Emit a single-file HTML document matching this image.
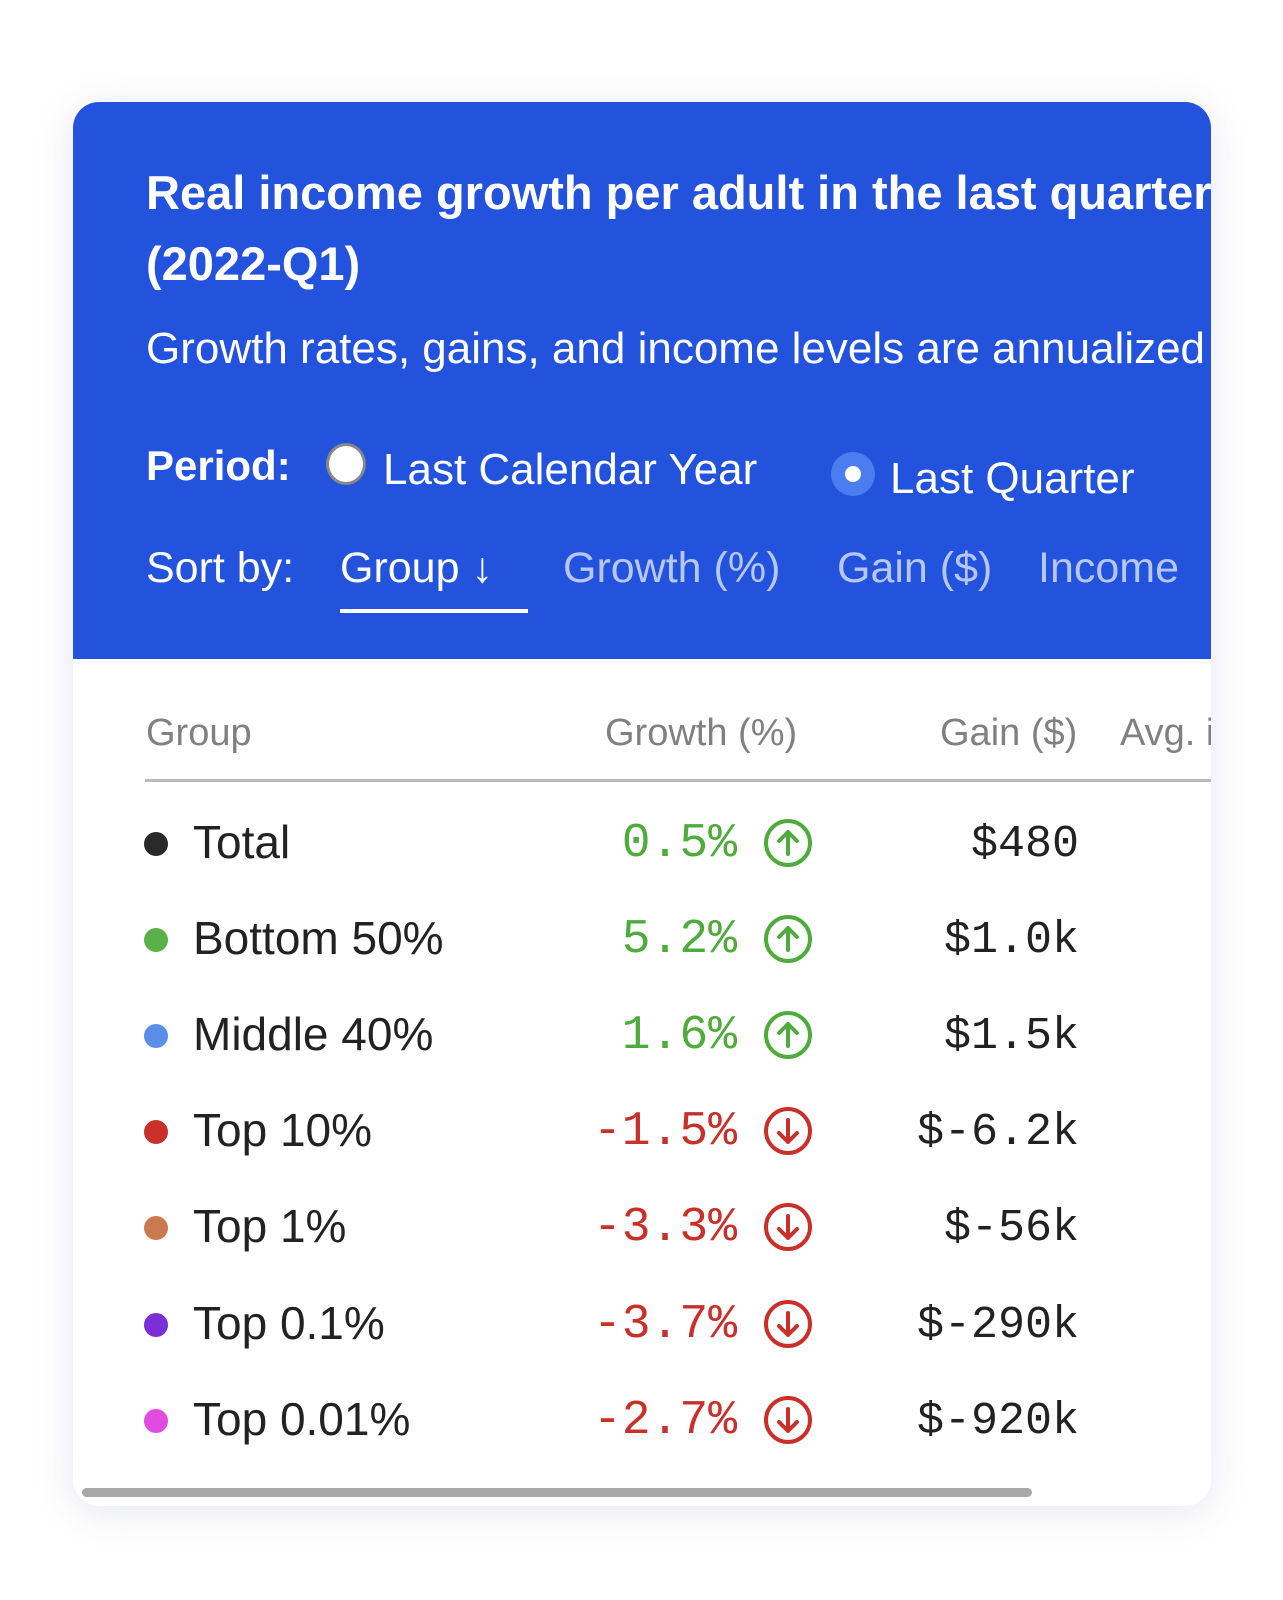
<!DOCTYPE html>
<html><head><meta charset="utf-8">
<style>
html,body{margin:0;padding:0;background:#fff;}
body{width:1283px;height:1600px;position:relative;overflow:hidden;font-family:"Liberation Sans",sans-serif;}
#card{position:absolute;left:73px;top:102px;width:1138px;height:1404px;border-radius:26px;overflow:hidden;background:#fff;box-shadow:0 6px 40px rgba(60,70,110,0.13);}
#head{position:absolute;left:0;top:0;width:100%;height:557px;background:#2352dc;color:#fff;}
.abs{position:absolute;white-space:nowrap;}
#title{left:73px;top:55px;font-size:47px;font-weight:bold;line-height:71px;}
#sub{left:73px;top:222px;font-size:44px;}
.radio{position:absolute;border-radius:50%;}
.sort{font-size:43px;top:442px;}
#tbl .hdr{font-size:38px;color:#808080;top:610px;}
.lbl{font-size:46px;color:#222;}
.mono{font-family:"Liberation Mono",monospace;font-size:48px;}
</style></head>
<body>
<div id="card">
 <div id="head">
  <div class="abs" id="title">Real income growth per adult in the last quarter<br>(2022-Q1)</div>
  <div class="abs" id="sub">Growth rates, gains, and income levels are annualized</div>
  <div class="abs" style="left:73px;top:340px;font-size:42px;font-weight:bold;">Period:</div>
  <div class="radio" style="left:253px;top:341px;width:40px;height:42px;background:#fff;border:3px solid #888;box-sizing:border-box;"></div>
  <div class="abs" style="left:310px;top:343px;font-size:44px;">Last Calendar Year</div>
  <div class="radio" style="left:758px;top:350px;width:44px;height:44px;background:#4b7cf0;"><div style="position:absolute;left:14px;top:14px;width:16px;height:16px;border-radius:50%;background:#fff"></div></div>
  <div class="abs" style="left:817px;top:352px;font-size:44px;">Last Quarter</div>
  <div class="abs sort" style="left:73px;">Sort by:</div>
  <div class="abs sort" style="left:267px;">Group <span style="font-weight:bold">↓</span></div>
  <div class="abs" style="left:267px;top:507px;width:188px;height:4px;background:#fff;"></div>
  <div class="abs sort" style="left:490px;color:#b6c6f6;">Growth (%)</div>
  <div class="abs sort" style="left:764px;color:#b6c6f6;">Gain ($)</div>
  <div class="abs sort" style="left:965px;color:#b6c6f6;">Income</div>
 </div>
 <div id="tbl">
  <div class="abs hdr" style="left:73px;">Group</div>
  <div class="abs hdr" style="left:532px;">Growth (%)</div>
  <div class="abs hdr" style="left:867px;">Gain ($)</div>
  <div class="abs hdr" style="left:1047px;">Avg. income</div>
  <div class="abs" style="left:72px;top:677px;width:1100px;height:3px;background:#bbb;"></div>
  <div id="rows"></div>
  <div class="abs" style="left:9px;top:1386px;width:950px;height:9px;border-radius:5px;background:#a8a8a8;"></div>
 </div>
</div>
<script>
const groups = ["Total","Bottom 50%","Middle 40%","Top 10%","Top 1%","Top 0.1%","Top 0.01%"];
const dotColors = ["#2a2a2a","#5cb04a","#5b8ee8","#c8302a","#c97a4f","#7b2fd6","#e24be0"];
const growth = [0.5,5.2,1.6,-1.5,-3.3,-3.7,-2.7];
const gains = ["$480","$1.0k","$1.5k","$-6.2k","$-56k","$-290k","$-920k"];
const rows = document.getElementById('rows');
const rowY = i => 743 + i*96.1;
groups.forEach((g,i)=>{
  const y = rowY(i);
  const up = growth[i] >= 0;
  const col = up ? "#4fab3c" : "#c8302a";
  const dot = document.createElement('div');
  
  
  dot.className='radio';
  dot.style.cssText=`left:71px;top:${y-13}px;width:24px;height:24px;background:${dotColors[i]}`;
  rows.appendChild(dot);
  const lb = document.createElement('div');
  
  
  lb.className='abs lbl';
  lb.style.cssText=`left:120px;top:${y-30}px`;
  lb.textContent=g;
  rows.appendChild(lb);
  const gv = document.createElement('div');
  
  
  gv.className='abs mono';
  gv.style.cssText=`right:${1138-664}px;top:${y-28}px;color:${col}`;
  gv.textContent=growth[i].toFixed(1)+'%';
  rows.appendChild(gv);
  const ic = document.createElementNS('http://www.w3.org/2000/svg','svg');
  
  
  ic.setAttribute('width','52');ic.setAttribute('height','52');
  ic.style.cssText=`position:absolute;left:689px;top:${y-28}px`;
  ic.innerHTML = `<circle cx="26" cy="26" r="22" fill="none" stroke="${col}" stroke-width="4"/>`+
   (up ? `<path d="M26 37V15M17 24l9-9 9 9" fill="none" stroke="${col}" stroke-width="4" stroke-linecap="round" stroke-linejoin="round"/>`
       : `<path d="M26 15v22M17 28l9 9 9-9" fill="none" stroke="${col}" stroke-width="4" stroke-linecap="round" stroke-linejoin="round"/>`);
  rows.appendChild(ic);
  const gn = document.createElement('div');
  
  
  gn.className='abs mono';
  gn.style.cssText=`right:${1138-1006}px;top:${y-26}px;color:#222;font-size:45px`;
  gn.textContent=gains[i];
  rows.appendChild(gn);
});
</script>
</body></html>
